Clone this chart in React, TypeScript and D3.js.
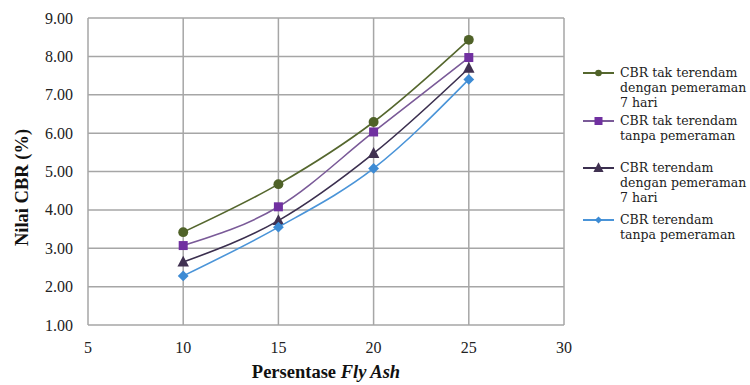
import React from "react";
import * as d3 from "d3";

const xValues = [10, 15, 20, 25];
const seriesNames = [
  ["CBR tak terendam", "dengan pemeraman", "7 hari"],
  ["CBR tak terendam", "tanpa pemeraman"],
  ["CBR terendam", "dengan pemeraman", "7 hari"],
  ["CBR terendam", "tanpa pemeraman"],
];
const takTerendamPeram = [3.42, 4.67, 6.29, 8.43];
const takTerendamTanpa = [3.07, 4.08, 6.03, 7.97];
const terendamPeram = [2.64, 3.72, 5.47, 7.69];
const terendamTanpa = [2.28, 3.55, 5.08, 7.4];
const xTicks = [5, 10, 15, 20, 25, 30];
const yTicks = [1, 2, 3, 4, 5, 6, 7, 8, 9];

const seriesValues = [takTerendamPeram, takTerendamTanpa, terendamPeram, terendamTanpa];
const markerColors = ["#4f6228", "#7030a0", "#403151", "#3d8bd4"];
const lineColors = ["#55672e", "#7a5a98", "#3b2f4f", "#4a94d8"];
const markerTypes = ["circle", "square", "triangle", "diamond"];

const legendY = [73, 121, 168, 220];

function Marker({ type, x, y, color, s }: { type: string; x: number; y: number; color: string; s: number }) {
  if (type === "circle") return <circle cx={x} cy={y} r={s * 0.55} fill={color} />;
  if (type === "square")
    return <rect x={x - s * 0.5} y={y - s * 0.5} width={s} height={s} fill={color} />;
  if (type === "triangle") {
    const h = s * 1.1;
    return (
      <path
        d={`M${x},${y - h * 0.65}L${x + h * 0.58},${y + h * 0.45}L${x - h * 0.58},${y + h * 0.45}Z`}
        fill={color}
      />
    );
  }
  const d = s * 0.6;
  return <path d={`M${x},${y - d}L${x + d},${y}L${x},${y + d}L${x - d},${y}Z`} fill={color} />;
}

export default function App() {
  const W = 750;
  const H = 385;
  const left = 88;
  const right = 564;
  const top = 18;
  const bottom = 325;
  const x = d3.scaleLinear().domain([5, 30]).range([left, right]);
  const y = d3.scaleLinear().domain([1, 9]).range([bottom, top]);
  const line = d3
    .line<number>()
    .x((_, i) => x(xValues[i]))
    .y((v) => y(v))
    .curve(d3.curveMonotoneX);
  const serif = "'Liberation Serif', 'Times New Roman', serif";
  const legendFont = "'DejaVu Serif', serif";
  const grid = "#a6a6a6";

  return (
    <svg width={W} height={H} style={{ position: "absolute", left: 0, top: 0, background: "#fff" }}>
      {yTicks.map((t) => (
        <line key={"gy" + t} x1={left} x2={right} y1={y(t)} y2={y(t)} stroke={grid} strokeWidth={1.5} />
      ))}
      {xTicks.map((t) => (
        <line key={"gx" + t} x1={x(t)} x2={x(t)} y1={top} y2={bottom} stroke={grid} strokeWidth={1.5} />
      ))}
      {yTicks.map((t) => (
        <text
          key={"ty" + t}
          x={73}
          y={y(t)}
          dy="0.35em"
          textAnchor="end"
          style={{ fontFamily: serif, fontSize: 16 }}
          fill="#222"
        >
          {t.toFixed(2)}
        </text>
      ))}
      {xTicks.map((t) => (
        <text
          key={"tx" + t}
          x={x(t)}
          y={347}
          dy="0.35em"
          textAnchor="middle"
          style={{ fontFamily: serif, fontSize: 16 }}
          fill="#222"
        >
          {t}
        </text>
      ))}
      <text
        transform={`translate(28,${(top + bottom) / 2 + 16}) rotate(-90)`}
        textAnchor="middle"
        style={{ fontFamily: serif, fontSize: 18.5, fontWeight: "bold" }}
        fill="#111"
      >
        Nilai CBR (%)
      </text>
      <text
        x={(left + right) / 2}
        y={378}
        textAnchor="middle"
        style={{ fontFamily: serif, fontSize: 18.5, fontWeight: "bold" }}
        fill="#111"
      >
        Persentase <tspan fontStyle="italic">Fly Ash</tspan>
      </text>
      {seriesValues.map((vals, si) => (
        <g key={"s" + si}>
          <path d={line(vals) || ""} fill="none" stroke={lineColors[si]} strokeWidth={1.6} />
          {vals.map((v, i) => (
            <Marker
              key={i}
              type={markerTypes[si]}
              x={x(xValues[i])}
              y={y(v)}
              color={markerColors[si]}
              s={9}
            />
          ))}
        </g>
      ))}
      {seriesNames.map((lines, si) => (
        <g key={"l" + si}>
          <line x1={583} x2={614} y1={legendY[si]} y2={legendY[si]} stroke={lineColors[si]} strokeWidth={2} />
          <Marker
            type={markerTypes[si]}
            x={598.5}
            y={legendY[si]}
            color={markerColors[si]}
            s={si === 0 || si === 3 ? 6 : 8}
          />
          {lines.map((ln, li) => (
            <text
              key={li}
              x={620}
              y={legendY[si] + li * 15}
              dy="0.35em"
              style={{ fontFamily: legendFont, fontSize: 12.5 }}
              fill="#222"
            >
              {ln}
            </text>
          ))}
        </g>
      ))}
    </svg>
  );
}
